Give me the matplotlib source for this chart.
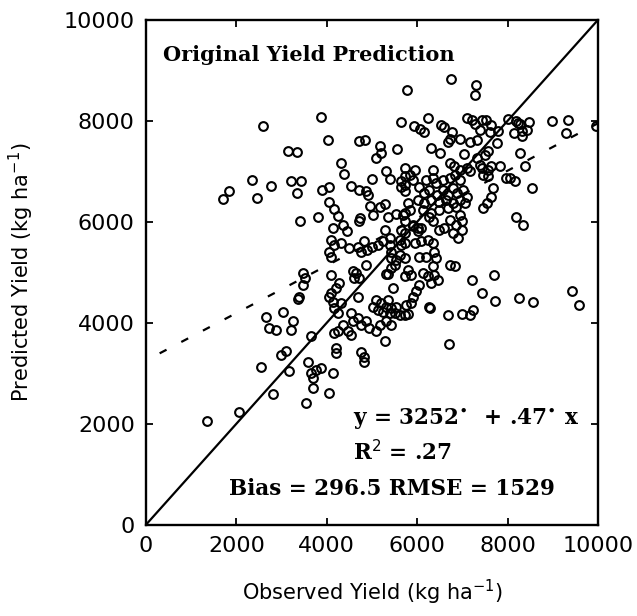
import numpy as np
import matplotlib
matplotlib.use("Agg")
import matplotlib.pyplot as plt

# observed / predicted yield (kg/ha)
obs = [3870, 2600, 4020, 4710, 4850, 3150, 3350, 5170, 5200, 5090, 5550, 4320, 4380, 2350, 2760,
       3210, 3440, 3350, 2450, 1830, 1710, 3900, 4040, 4540, 4720, 4870, 4910, 4990, 5310, 5390,
       5720, 5740, 5650, 5740, 3400, 3810, 4060, 4150, 4240, 4350, 4130, 4960, 5170, 5280, 5030,
       4740, 4720, 5350, 5530, 5740, 5650, 4440, 5280, 5390, 5650, 5720, 4090, 4160, 4320, 4500,
       4680, 4830, 4990, 5130, 5240, 5390, 5610, 5650, 5740, 4060, 4090, 4750, 4900, 5420, 5420,
       5530, 5500, 5420, 5610, 5720, 4870, 3480, 3520, 3480, 4090, 4570, 4640, 4610, 4720, 5310,
       5360, 5720, 4280, 4210, 5460, 3390, 4090, 4060, 4130, 4320, 4170, 4240, 4680, 5020, 5090,
       5200, 5350, 5310, 5420, 5530, 5130, 5240, 5390, 5500, 5610, 5760, 5720, 4350, 4540, 4570,
       4680, 4750, 4870, 4940, 5170, 5310, 5420, 5090, 3650, 4170, 4240, 4460, 4540, 4200, 5280,
       4750, 5900, 6020, 6090, 6480, 6590, 6790, 6900, 6980, 5940, 6090, 6230, 6350, 6050, 6200,
       6380, 6420, 6350, 6720, 6830, 5790, 5870, 6130, 6230, 6380, 6460, 6300, 7200, 7700, 6050,
       5980, 5900, 5870, 6270, 6280, 7440, 7720, 5790, 6680, 6980, 7160, 7240, 6700, 8010, 8230,
       8180, 8280, 8470, 8430, 8320, 8140, 8320, 8970, 9330, 9290, 9950, 8280, 8380, 8050, 8160,
       8530, 8190, 8340, 6750, 7310, 7270, 5780, 8260, 8570, 9420, 9580, 6240, 5920, 6070, 6160,
       6530, 6600, 6770, 7090, 7200, 7270, 7440, 7530, 7630, 7780, 7380, 6730, 6950, 7160, 7320,
       6680, 7610, 7760, 7570, 7490, 6300, 6500, 7030, 7320, 7380, 7440, 7570, 7640, 7830, 6720,
       6810, 6940, 7090, 7160, 7960, 5940, 5830, 5900, 6350, 6200, 6350, 6420, 6570, 6720, 6830,
       6940, 7450, 7570, 5650, 5740, 6050, 6160, 6270, 6430, 6570, 6680, 6790, 6870, 7010, 7090,
       7680, 7640, 7550, 7450, 6020, 6160, 6300, 6480, 6630, 6790, 6940, 7050, 5790, 5830, 5690,
       6130, 6300, 6480, 6680, 6860, 6940, 6270, 6350, 5740, 5900, 6020, 6720, 6860, 6980, 3360,
       2650, 3030, 3250, 3200, 2730, 2870, 2990, 3090, 2540, 3170, 2800, 2060, 1350, 3580, 3650,
       3760, 3870, 3690, 3690, 3540, 4040, 4130, 4200, 4830, 4830]
pred = [8070, 7900, 7620, 7590, 7610, 7400, 7380, 7490, 7360, 7260, 7440, 7170, 6950, 6820, 6700,
        6800, 6800, 6560, 6480, 6600, 6450, 6630, 6680, 6700, 6620, 6600, 6530, 6850, 7000, 6850,
        7060, 6900, 6690, 6600, 6020, 6090, 6400, 6250, 6120, 5940, 5880, 6320, 6300, 6360, 6140,
        6070, 6020, 6090, 6160, 6170, 7970, 5820, 5840, 5680, 5840, 5780, 5640, 5540, 5580, 5480,
        5510, 5610, 5510, 5540, 5610, 5540, 5640, 5540, 5580, 5410, 5310, 5410, 5450, 5410, 5280,
        5250, 5150, 5080, 5350, 5280, 5150, 4980, 4880, 4750, 4950, 5020, 4980, 4880, 4880, 4960,
        4960, 4920, 4790, 4690, 4690, 4520, 4590, 4520, 4420, 4390, 4290, 4190, 4520, 4320, 4460,
        4390, 4460, 4320, 4290, 4320, 4260, 4220, 4190, 4190, 4160, 4360, 4160, 3960, 4190, 4030,
        4090, 3960, 4030, 3900, 3960, 4030, 3960, 3830, 3730, 3800, 3830, 3830, 3760, 3500, 3630,
        3430, 5910, 5810, 5880, 5840, 5880, 5780, 5680, 5840, 5580, 5610, 5640, 5580, 5310, 5310,
        5410, 5280, 5120, 5150, 5120, 5050, 4950, 4980, 4920, 4950, 4850, 4790, 4850, 4950, 4750,
        4620, 4520, 4390, 4320, 4300, 4590, 4440, 4170, 4160, 4170, 4160, 4260, 3580, 8040, 7960,
        7990, 7930, 7970, 7820, 7790, 7760, 7690, 7990, 8020, 7760, 7890, 7360, 7100, 6870, 6800,
        6670, 6100, 5940, 8830, 8710, 8510, 8610, 4490, 4420, 4620, 4360, 8050, 7890, 7840, 7770,
        7920, 7880, 7770, 8050, 8010, 7940, 8020, 8010, 7920, 7790, 7820, 7640, 7640, 7570, 7620,
        7570, 7770, 7560, 7410, 7330, 7460, 7370, 7350, 7260, 7130, 7060, 7030, 7100, 7100, 7170,
        7100, 7030, 7060, 7000, 6870, 7020, 6930, 6830, 7030, 6830, 6870, 6770, 6830, 6870, 6930,
        6830, 6930, 6900, 6800, 6730, 6690, 6570, 6630, 6530, 6630, 6530, 6670, 6570, 6630, 6500,
        6670, 6500, 6370, 6270, 6430, 6370, 6430, 6400, 6430, 6370, 6430, 6370, 6370, 6240, 6140,
        6240, 6170, 6240, 6270, 6300, 6140, 6100, 6010, 6010, 5940, 5880, 6040, 5940, 6010, 4470,
        4120, 4220, 4030, 3860, 3900, 3850, 3370, 3450, 3120, 3040, 2590, 2230, 2050, 3230, 3000,
        3070, 3100, 2900, 2710, 2410, 2610, 3000, 3400, 3330, 3230]

intercept = 3252
slope = 0.47

fig = plt.figure(figsize=(6.37, 6.16), dpi=100)
ax = fig.add_axes([0.229, 0.148, 0.710, 0.820])

ax.plot([0, 10000], [0, 10000], color="black", lw=1.6)
xx = np.array([0, 10000])
ax.plot(xx, intercept + slope * xx, color="black", lw=1.6, linestyle=(4, (3.5, 7.5)))
ax.plot(obs, pred, "o", ms=6.3, mfc="none", mec="black", mew=1.5)

ax.set_xlim(0, 10000)
ax.set_ylim(0, 10000)
ax.set_xticks(range(0, 10001, 2000))
ax.set_yticks(range(0, 10001, 2000))
ax.tick_params(direction="in", length=5, width=1.3, top=True, right=True,
               labelsize=16, pad=8)
for s in ax.spines.values():
    s.set_linewidth(1.7)

ax.set_xlabel("Observed Yield (kg ha$^{-1}$)", fontsize=15, labelpad=16)
ax.set_ylabel("Predicted Yield (kg ha$^{-1}$)", fontsize=15, labelpad=20)

serif = dict(family="DejaVu Serif", fontweight="bold", color="black")
ax.text(380, 9300, "Original Yield Prediction", fontsize=15, va="center", **serif)
ax.text(4590, 2080, "y = 3252$^{\\bullet}$  + .47$^{\\bullet}$ x", fontsize=15.5, va="center", **serif)
ax.text(4590, 1430, "R$^{2}$ = .27", fontsize=15.5, va="center", **serif)
ax.text(1840, 710, "Bias = 296.5 RMSE = 1529", fontsize=15.5, va="center", **serif)

fig.savefig("out.png", dpi=100)
